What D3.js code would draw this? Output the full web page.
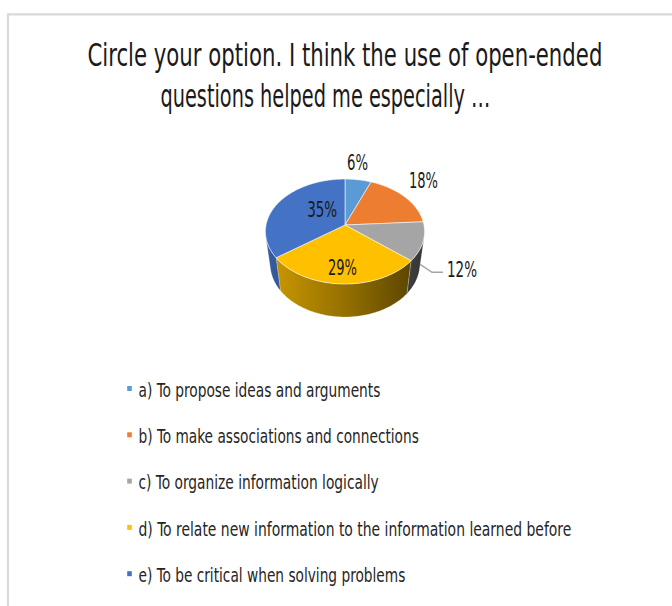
<!DOCTYPE html>
<html>
<head>
<meta charset="utf-8">
<script src="https://cdn.jsdelivr.net/npm/d3@7"></script>
<style>
  html, body { margin: 0; padding: 0; background: #fff; }
  svg { display: block; }
</style>
</head>
<body>
<svg id="chart" width="672" height="606"></svg>
<script>
// ---- chart content ----
const titleLines = [
  "Circle your option. I think the use of open-ended",
  "questions helped me especially \u2026"
];
const categories = [
  "a) To propose ideas and arguments",
  "b) To make associations and connections",
  "c) To organize information logically",
  "d) To relate new information to the information learned before",
  "e) To be critical when solving problems"
];
const percentages = [6, 18, 12, 29, 35];
const palette = ["#5B9BD5", "#ED7D31", "#A5A5A5", "#FFC000", "#4472C4"];

// ---- layout ----
const FONT = "'Liberation Sans Narrow', 'Arial Narrow', 'DejaVu Sans Condensed', 'Liberation Sans', sans-serif";
const TEXT = "#1a1a1a";
const titleLayout = [
  { x: 87.5, y: 66, w: 515 },
  { x: 160.5, y: 107, w: 330 }
];
const legendLayout = { x: 138.5, y0: 396.7, step: 46.3, widths: [242, 280.5, 240.5, 433, 267] };
// label placement: radial factor on the top face, vertical nudge, drawn width
const labelLayout = [
  { r: 0.94, dy: -12.7, w: 21 },
  { r: 1.35, dy: 0.6, w: 29 },
  { r: 1.47, dy: 27, w: 30 },
  { r: 0.90, dy: -2.3, w: 29 },
  { r: 0.33, dy: -0.7, w: 30 }
];

// perspective camera for the 3-D pie
const cam = { cx: 345, cy: 225, f: 481.7, D: 6.1, sin: 0.654, cos: 0.756, depth: 0.58 };

function project(t, y, r = 1) {
  // t: angle clockwise from the back of the disc, y: height (0 = top face)
  const X = r * Math.sin(t), Z = r * Math.cos(t);
  const w = cam.D + Z * cam.cos - y * cam.sin;
  const v = Z * cam.sin + y * cam.cos;
  return [cam.cx + cam.f * X / w, cam.cy - cam.f * v / w];
}
function arcPoints(a0, a1, y) {
  const n = Math.max(2, Math.ceil((a1 - a0) / (Math.PI / 180)) + 1);
  return d3.range(n).map(i => project(a0 + (a1 - a0) * i / (n - 1), y));
}

// squeeze a text horizontally so it spans the given width
function fitText(sel, getX, getY, getW, anchor) {
  sel.each(function (d, i) {
    const el = d3.select(this);
    const natural = this.getComputedTextLength() || 1;
    const w = getW(d, i), k = w / natural;
    let x = getX(d, i);
    if (anchor === "middle") x -= w / 2;
    el.attr("x", 0).attr("y", 0)
      .attr("transform", `translate(${x},${getY(d, i)}) scale(${k},1)`);
  });
}

const svg = d3.select("#chart");
const color = d3.scaleOrdinal(categories, palette);
const line = d3.line();

// chart frame
svg.append("path")
  .attr("d", "M8,606V14.3H672")
  .attr("fill", "none")
  .attr("stroke", "#d9d9d9")
  .attr("stroke-width", 2.2);

// title
svg.append("g").selectAll("text")
  .data(titleLines)
  .join("text")
  .attr("font-family", FONT)
  .attr("font-size", 32)
  .attr("fill", TEXT)
  .text(d => d)
  .call(fitText, (d, i) => titleLayout[i].x, (d, i) => titleLayout[i].y, (d, i) => titleLayout[i].w);

// pie angles
const pie = d3.pie().sort(null).startAngle(0).endAngle(2 * Math.PI);
const arcs = pie(percentages);

// side shading gradients
const defs = svg.append("defs");
arcs.forEach((d, i) => {
  const base = d3.color(palette[i]);
  const g = defs.append("linearGradient")
    .attr("id", "side" + i)
    .attr("gradientUnits", "userSpaceOnUse")
    .attr("x1", cam.cx - 80).attr("x2", cam.cx + 80)
    .attr("y1", 0).attr("y2", 0);
  g.append("stop").attr("offset", 0).attr("stop-color", base.darker(0.6).formatHex());
  g.append("stop").attr("offset", 0.5).attr("stop-color", base.darker(1.5).formatHex());
  g.append("stop").attr("offset", 1).attr("stop-color", base.darker(3.2).formatHex());
});

// visible part of the cylinder wall
const tVis = Math.acos(-1 / (cam.D * cam.cos));
const sides = arcs.map((d, i) => {
  const lo = Math.max(d.startAngle, tVis), hi = Math.min(d.endAngle, 2 * Math.PI - tVis);
  return lo < hi ? { i, lo, hi } : null;
}).filter(Boolean);

const pieG = svg.append("g");
pieG.selectAll("path.side")
  .data(sides)
  .join("path")
  .attr("class", "side")
  .attr("d", s => line(arcPoints(s.lo, s.hi, 0).concat(arcPoints(s.lo, s.hi, -cam.depth).reverse())) + "Z")
  .attr("fill", s => `url(#side${s.i})`)
  .attr("stroke", "rgba(255,255,255,0.35)")
  .attr("stroke-width", 0.6);

pieG.selectAll("path.top")
  .data(arcs)
  .join("path")
  .attr("class", "top")
  .attr("d", d => line([[cam.cx, cam.cy]].concat(arcPoints(d.startAngle, d.endAngle, 0))) + "Z")
  .attr("fill", (d, i) => color(categories[i]))
  .attr("stroke", "rgba(255,255,255,0.7)")
  .attr("stroke-width", 0.8)
  .attr("stroke-linejoin", "round");

// data labels
const labels = arcs.map((d, i) => {
  const mid = (d.startAngle + d.endAngle) / 2;
  const p = project(mid, 0, labelLayout[i].r);
  return { x: p[0], y: p[1] + labelLayout[i].dy, w: labelLayout[i].w, text: percentages[i] + "%", i };
});

// leader line for the label beside the grey slice
const lead = labels[2];
const leadStart = project(104 * Math.PI / 180, -cam.depth * 0.8);
const leadEnd = [lead.x - lead.w / 2 - 4, lead.y - 4.5];
svg.append("path")
  .attr("d", line([leadStart, [leadEnd[0] - 11, leadEnd[1]], leadEnd]))
  .attr("fill", "none")
  .attr("stroke", "#a5a5a5")
  .attr("stroke-width", 1.5);

svg.append("g").selectAll("text")
  .data(labels)
  .join("text")
  .attr("font-family", FONT)
  .attr("font-size", 21)
  .attr("fill", TEXT)
  .text(d => d.text)
  .call(fitText, d => d.x, d => d.y, d => d.w, "middle");

// legend
const leg = svg.append("g").selectAll("g")
  .data(categories)
  .join("g")
  .attr("transform", (d, i) => `translate(0,${legendLayout.y0 + i * legendLayout.step})`);
leg.append("rect")
  .attr("x", 127.2).attr("y", -10.7)
  .attr("width", 4.6).attr("height", 5)
  .attr("fill", d => color(d));
leg.append("text")
  .attr("font-family", FONT)
  .attr("font-size", 19)
  .attr("fill", "#262626")
  .text(d => d)
  .call(fitText, () => legendLayout.x, () => 0, (d, i) => legendLayout.widths[i]);
</script>
</body>
</html>
